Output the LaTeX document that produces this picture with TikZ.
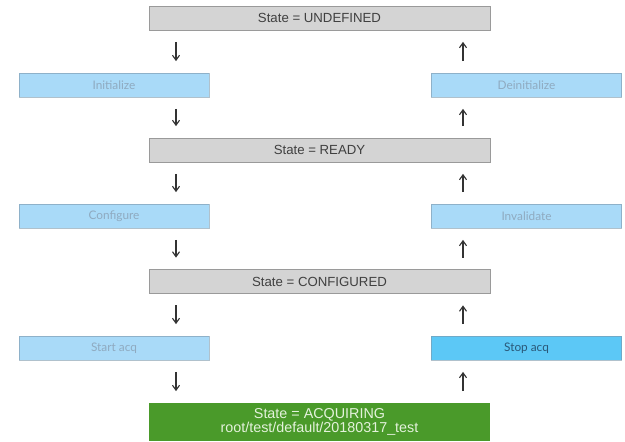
\documentclass[tikz,border=0pt]{standalone}
\usepackage{fontspec}
\setmainfont{Liberation Sans}
\newfontfamily\actfont{Lato}
\usepackage{tikz}
\usetikzlibrary{calc}
\usetikzlibrary{arrows.meta}

\definecolor{stategray}{HTML}{D4D4D4}
\definecolor{stateedge}{HTML}{9A9A9A}
\definecolor{actblue}{HTML}{A9DAF8}
\definecolor{actedge}{HTML}{7C97AA}
\definecolor{acttext}{HTML}{8FAAC0}
\definecolor{busyblue}{HTML}{5CC8F6}
\definecolor{busytext}{HTML}{2A5878}
\definecolor{acqgreen}{HTML}{4A9A2A}
\definecolor{acqtext}{HTML}{E4F2DC}

\begin{document}
\begin{tikzpicture}[x=0.025cm,y=-0.025cm,
  statenode/.style={draw=stateedge,fill=stategray,minimum width=8.525cm,
    minimum height=0.6cm,inner sep=0pt,font=\fontsize{9.4}{10}\selectfont,text=black!75},
  actnode/.style={draw=actedge,draw opacity=.6,fill=actblue,minimum width=4.75cm,
    minimum height=0.6cm,inner sep=0pt,font=\actfont\fontsize{8.4}{9}\selectfont,text=acttext},
  flow/.style={-{Straight Barb[length=3.5pt,width=5pt]},black!80,line width=0.8pt,
    shorten <=0.29cm,shorten >=0.29cm}]

% Page frame
\useasboundingbox (0,0) rectangle (625,441);

% Columns of the arrows
\def\dnx{176} %<- going down
\def\upx{463} %<- going back up

% States, middle column
\node[statenode] (undef) at (319.5,18) {State = UNDEFINED};
\node[statenode] (ready) at (319.5,150) {State = READY};
\node[statenode] (confd) at (319.5,281.5) {State = CONFIGURED};
\node[statenode,draw=none,fill=acqgreen,minimum height=0.95cm,text=acqtext,
  align=center,font=\fontsize{10.2}{10.4}\selectfont] (acq) at (319.5,422)
  {State = ACQUIRING\\root/test/default/20180317\_test};

% Actions going down
\node[actnode] (init) at (114,85) {Initialize};
\node[actnode] (conf) at (114,216) {Configure};
\node[actnode] (start) at (114,348) {Start acq};

% Actions going up
\node[actnode] (deinit) at (526.5,85) {Deinitialize};
\node[actnode] (inval) at (526.5,216) {Invalidate};
\node[actnode,fill=busyblue,text=busytext] (stop) at (526.5,348) {Stop acq};

% Down arrows
\coordinate (dn) at (\dnx,0);
\draw[flow] (undef.south -| dn) -- (init.north -| dn);
\draw[flow] (init.south -| dn) -- (ready.north -| dn);
\draw[flow] (ready.south -| dn) -- (conf.north -| dn);
\draw[flow] (conf.south -| dn) -- (confd.north -| dn);
\draw[flow] (confd.south -| dn) -- (start.north -| dn);
\draw[flow] (start.south -| dn) -- (acq.north -| dn);

% Up arrows
\coordinate (up) at (\upx,0);
\draw[flow] (deinit.north -| up) -- (undef.south -| up);
\draw[flow] (ready.north -| up) -- (deinit.south -| up);
\draw[flow] (inval.north -| up) -- (ready.south -| up);
\draw[flow] (confd.north -| up) -- (inval.south -| up);
\draw[flow] (stop.north -| up) -- (confd.south -| up);
\draw[flow] (acq.north -| up) -- (stop.south -| up);

\end{tikzpicture}
\end{document}
